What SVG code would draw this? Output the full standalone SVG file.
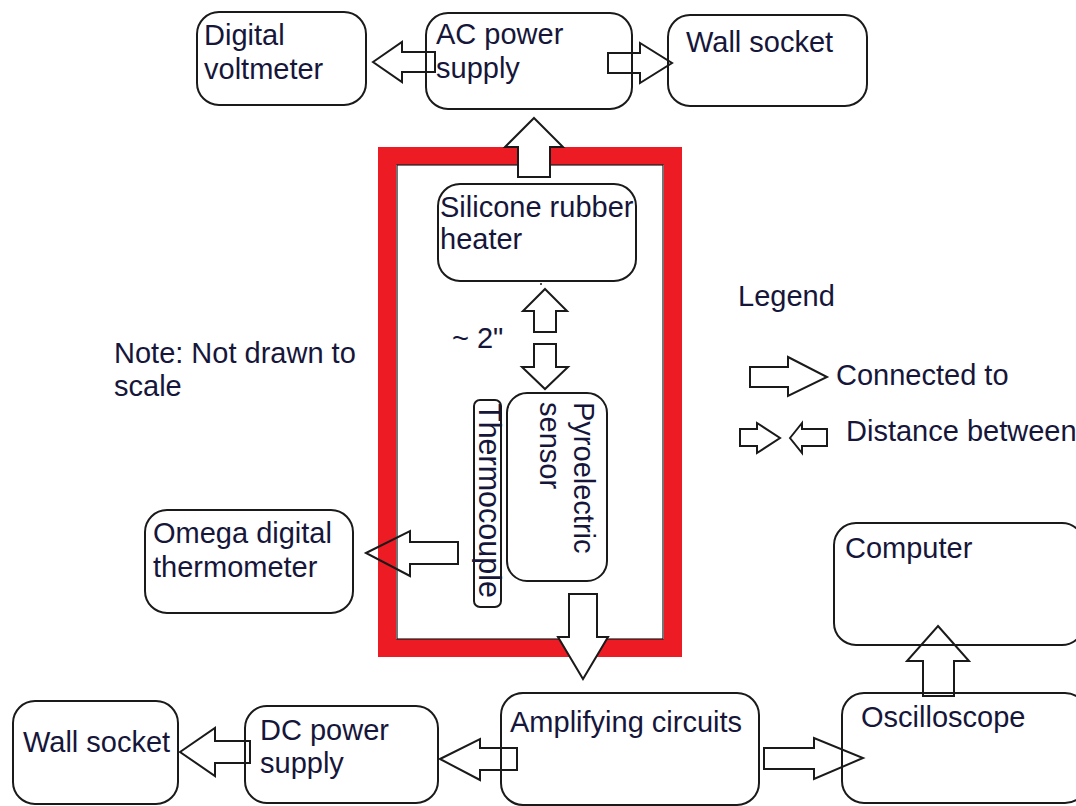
<svg xmlns="http://www.w3.org/2000/svg" width="1076" height="806" viewBox="0 0 1076 806">
<style>
.box{fill:none;stroke:#1a1a1a;stroke-width:2}
.arr{fill:#fff;stroke:#1a1a1a;stroke-width:2;stroke-linejoin:miter}
.t{font-family:"Liberation Sans",Arial,sans-serif;font-size:29px;fill:#16163a}
</style>
<rect width="1076" height="806" fill="#fff"/>
<g id="enclosure">
<rect x="387" y="156" width="286" height="492" fill="none" stroke="#ed1c24" stroke-width="18"/>
<rect x="397" y="165" width="266" height="474" fill="none" stroke="#1a1a1a" stroke-width="1.2"/>
</g>
<g id="connectors">
<polygon class="arr" points="373,62 402,42 402,52 435,52 435,72 402,72 402,82"/>
<polygon class="arr" points="608,53 640,53 640,43 672,63 640,83 640,73 608,73"/>
<polygon class="arr" points="534,118 563,147 550,147 550,177 518,177 518,147 505,147"/>
<polygon class="arr" points="545,289 567,311 556,311 556,332 534,332 534,311 523,311"/>
<polygon class="arr" points="534,344 556,344 556,367 568,367 545,389 522,367 534,367"/>
<polygon class="arr" style="fill:none" points="366,553 410,531 410,542 458,542 458,564 410,564 410,576"/>
<polygon class="arr" points="569,594 597,594 597,637 608,637 583,679 558,637 569,637"/>
<polygon class="arr" points="440,759 480,739 480,748 517,748 517,770 480,770 480,780"/>
<polygon class="arr" points="180,752 215,728 215,741 250,741 250,763 215,763 215,776"/>
<polygon class="arr" points="764,748 814,748 814,738 863,758 814,779 814,769 764,769"/>
<polygon class="arr" points="938,626 969,661 954,661 954,696 923,696 923,661 907,661"/>
<circle cx="541" cy="284" r="1" fill="#1a1a1a"/>
</g>
<g id="digital-voltmeter">
<rect class="box" x="197" y="12" width="169" height="93" rx="22"/>
<text class="t" x="204" y="45">Digital</text>
<text class="t" x="204" y="79">voltmeter</text>
</g>
<g id="ac-power-supply">
<rect class="box" x="426" y="13" width="206" height="96" rx="22"/>
<text class="t" x="436" y="44">AC power</text>
<text class="t" x="436" y="78">supply</text>
</g>
<g id="wall-socket-top">
<rect class="box" x="668" y="15" width="199" height="91" rx="22"/>
<text class="t" x="686" y="52">Wall socket</text>
</g>
<g id="heater">
<rect class="box" x="438" y="184" width="198" height="97" rx="22"/>
<text class="t" x="440" y="217">Silicone rubber</text>
<text class="t" x="440" y="249">heater</text>
</g>
<g id="distance-label">
<text class="t" x="452" y="348">~ 2"</text>
</g>
<g id="note">
<text class="t" x="114" y="363">Note: Not drawn to</text>
<text class="t" x="114" y="396">scale</text>
</g>
<g id="pyroelectric-sensor">
<rect class="box" x="507" y="393" width="100" height="188" rx="20"/>
<text class="t" transform="translate(574,402) rotate(90)">Pyroelectric</text>
<text class="t" transform="translate(540,402) rotate(90)">sensor</text>
</g>
<g id="thermocouple">
<rect class="box" x="474" y="400" width="27" height="207" rx="6"/>
<text class="t" style="font-size:30.5px" transform="translate(479,403) rotate(90)">Thermocouple</text>
</g>
<g id="omega-thermometer">
<rect class="box" x="145" y="510" width="208" height="103" rx="22"/>
<text class="t" x="153" y="543">Omega digital</text>
<text class="t" x="153" y="577">thermometer</text>
</g>
<g id="legend">
<text class="t" x="738" y="306">Legend</text>
<polygon class="arr" points="750,367 788,367 788,357 827,377 788,396 788,387 750,387"/>
<text class="t" x="836" y="385">Connected to</text>
<polygon class="arr" points="740,429 757,429 757,423 780,438 757,453 757,446 740,446"/>
<polygon class="arr" points="790,438 802,423 802,429 827,429 827,446 802,446 802,453"/>
<text class="t" x="846" y="441">Distance between</text>
</g>
<g id="computer">
<rect class="box" x="834" y="523" width="250" height="122" rx="22"/>
<text class="t" x="845" y="558">Computer</text>
</g>
<g id="oscilloscope">
<rect class="box" x="842" y="693" width="245" height="110" rx="22"/>
<text class="t" x="861" y="727">Oscilloscope</text>
</g>
<g id="amplifying-circuits">
<rect class="box" x="501" y="693" width="258" height="112" rx="22"/>
<text class="t" x="510" y="732">Amplifying circuits</text>
</g>
<g id="dc-power-supply">
<rect class="box" x="245" y="706" width="193" height="97" rx="22"/>
<text class="t" x="260" y="740">DC power</text>
<text class="t" x="260" y="773">supply</text>
</g>
<g id="wall-socket-bottom">
<rect class="box" x="13" y="701" width="165" height="103" rx="22"/>
<text class="t" x="23" y="752">Wall socket</text>
</g>
</svg>
